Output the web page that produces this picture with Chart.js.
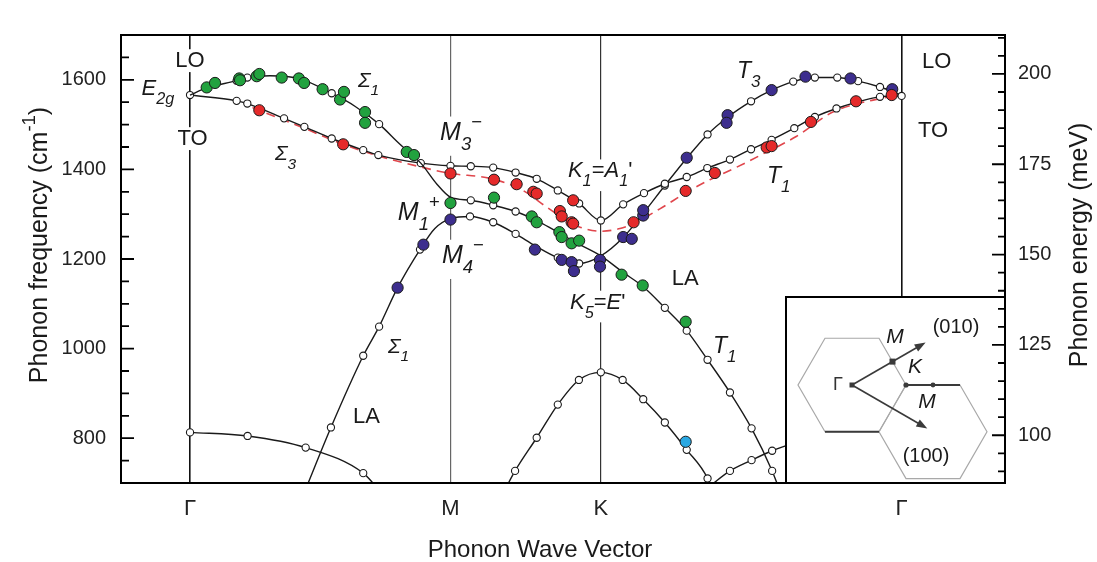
<!DOCTYPE html>
<html>
<head>
<meta charset="utf-8">
<script src="https://cdn.jsdelivr.net/npm/chart.js@4.4.1/dist/chart.umd.min.js"></script>
<style>
html, body { margin: 0; padding: 0; background: #fff; }
canvas { display: block; }
</style>
</head>
<body>
<canvas id="chart" width="1097" height="562"></canvas>
<script>
const FONT = '"Liberation Sans", Arial, Helvetica, sans-serif';
const K_POS = 1 + 1 / Math.sqrt(3);
const G2_POS = 1 + Math.sqrt(3);
const CM_PER_MEV = 8.0655;

// high-symmetry points along the path
const xTicks = [0, 1, K_POS, G2_POS];
const xLabels = ['Γ', 'M', 'K', 'Γ'];
const yTicks = [800, 1000, 1200, 1400, 1600];
const meVTicks = [100, 125, 150, 175, 200];

// calculated branches: [q, frequency cm-1, open circle shown]
const branchLO = [[0,1566,0],[0.064,1582,0],[0.179,1598,1],[0.22,1605,1],[0.307,1609,0],[0.422,1602,0],[0.544,1570,1],[0.633,1541,0],[0.726,1501,1],[0.806,1456,0],[0.886,1414,0],[0.948,1367,0],[1.0,1338,0],[1.078,1331,1],[1.164,1320,1],[1.25,1306,1],[1.344,1282,0],[1.42,1257,0],[1.497,1232,0],[K_POS,1207,0],[1.663,1170,0],[1.74,1138,0],[1.823,1091,1],[1.907,1040,1],[1.987,975,1],[2.073,902,1],[2.156,822,1],[2.235,727,1],[2.265,682,0]];
const branchTO = [[0,1566,1],[0.179,1553,1],[0.22,1547,1],[0.361,1514,1],[0.439,1495,1],[0.544,1469,1],[0.665,1443,1],[0.723,1432,1],[0.886,1414,1],[1.0,1408,1],[1.078,1407,1],[1.164,1404,1],[1.25,1393,1],[1.331,1379,1],[1.412,1353,1],[1.494,1324,1],[K_POS,1286,1],[1.663,1322,1],[1.743,1347,1],[1.823,1368,1],[1.907,1383,1],[1.986,1403,1],[2.073,1422,1],[2.154,1445,1],[2.233,1466,1],[2.32,1492,1],[2.399,1517,1],[2.482,1536,1],[2.649,1562,1],[G2_POS,1564,1]];
const branchLA = [[0.441,682,0],[0.541,824,1],[0.665,984,1],[0.726,1049,1],[0.797,1136,0],[0.883,1221,1],[0.94,1268,0],[1.0,1290,0],[1.075,1295,1],[1.164,1282,1],[1.25,1256,1],[1.324,1230,0],[1.412,1203,1],[1.494,1190,1],[K_POS,1207,0],[1.663,1248,0],[1.743,1304,0],[1.823,1364,1],[1.907,1425,0],[1.987,1478,1],[2.065,1517,0],[2.154,1552,1],[2.233,1577,0],[2.316,1596,1],[2.399,1605,1],[2.485,1605,1],[2.565,1597,1],[2.649,1584,1],[G2_POS,1566,0]];
const branchLowGM = [[0,813,1],[0.221,805,1],[0.444,779,1],[0.665,722,1],[0.729,682,0]];
const branchArchK = [[1.21,686,0],[1.248,727,1],[1.331,801,1],[1.412,875,1],[1.493,930,1],[K_POS,947,1],[1.661,930,1],[1.74,887,1],[1.823,835,1],[1.907,774,1],[1.987,710,1],[2.004,682,0]];
const branchLowKG = [[2.0,695,0],[2.073,727,1],[2.156,751,1],[2.235,772,1],[2.341,794,0]];

// dashed red curve
const redDashed = [[0.24,1538],[0.265,1532],[0.422,1496],[0.587,1456],[0.729,1429],[0.889,1405],[1.0,1391],[1.152,1380],[1.278,1353],[1.369,1316],[1.446,1286],[1.497,1271],[K_POS,1262],[1.651,1268],[1.701,1279],[1.804,1312],[1.907,1349],[1.996,1377],[2.099,1405],[2.188,1431],[2.329,1474],[2.468,1528],[2.649,1558],[2.713,1564]];

// measured points
const greenPts = [[0.064,1583],[0.096,1593],[0.189,1603],[0.192,1599],[0.256,1608],[0.266,1613],[0.352,1605],[0.418,1603],[0.438,1593],[0.509,1579],[0.576,1556],[0.591,1573],[0.672,1528],[0.672,1504],[0.832,1439],[0.86,1432],[1.0,1325],[1.167,1337],[1.312,1295],[1.331,1282],[1.418,1260],[1.427,1249],[1.465,1235],[1.494,1241],[1.657,1165],[1.738,1141],[1.903,1060]];
const redPts = [[0.266,1532],[0.588,1456],[1.0,1391],[1.167,1377],[1.254,1367],[1.318,1350],[1.331,1346],[1.42,1307],[1.427,1295],[1.465,1282],[1.471,1279],[1.471,1331],[1.703,1282],[1.903,1352],[2.015,1392],[2.214,1449],[2.233,1452],[2.384,1506],[2.557,1552],[2.694,1566]];
const purplePts = [[0.797,1136],[0.896,1232],[1.0,1288],[1.324,1221],[1.427,1198],[1.465,1193],[1.474,1173],[1.574,1198],[1.574,1183],[1.663,1249],[1.696,1245],[1.74,1297],[1.74,1309],[1.907,1426],[2.064,1521],[2.06,1504],[2.233,1577],[2.363,1607],[2.536,1603],[2.696,1579]];
const cyanPts = [[1.903,792]];

// text labels: anchor in data units (q, cm-1); parts = [text, 'sub'|'sup'|'', italic]
const labels = [
  { x: 0, y: 1628, size: 22, align: 'center', bg: true, parts: [['LO']] },
  { x: -0.186, y: 1566, size: 22, parts: [['E', '', 1], ['2g', 'sub', 1]] },
  { x: 0.01, y: 1454, size: 22, align: 'center', bg: true, parts: [['TO']] },
  { x: 0.645, y: 1584, size: 21, parts: [['Σ', '', 1], ['1', 'sub', 1]] },
  { x: 0.326, y: 1420, size: 21, parts: [['Σ', '', 1], ['3', 'sub', 1]] },
  { x: 0.96, y: 1465, size: 25, bg: true, parts: [['M', '', 1], ['3', 'sub', 1], ['−', 'sup', 0]] },
  { x: 0.798, y: 1286, size: 25, parts: [['M', '', 1], ['1', 'sub', 1], ['+', 'sup', 0]] },
  { x: 0.967, y: 1190, size: 25, bg: true, parts: [['M', '', 1], ['4', 'sub', 1], ['−', 'sup', 0]] },
  { x: 1.451, y: 1382, size: 22, bg: true, parts: [['K', '', 1], ['1', 'sub', 1], ['='], ['A', '', 1], ['1', 'sub', 1], ["'"]] },
  { x: 1.459, y: 1089, size: 22, bg: true, parts: [['K', '', 1], ['5', 'sub', 1], ['='], ['E', '', 1], ["'"]] },
  { x: 1.85, y: 1141, size: 22, parts: [['LA']] },
  { x: 2.008, y: 991, size: 23, parts: [['T', '', 1], ['1', 'sub', 1]] },
  { x: 2.1, y: 1604, size: 23, parts: [['T', '', 1], ['3', 'sub', 1]] },
  { x: 2.215, y: 1369, size: 23, parts: [['T', '', 1], ['1', 'sub', 1]] },
  { x: 0.76, y: 991, size: 21, parts: [['Σ', '', 1], ['1', 'sub', 1]] },
  { x: 0.626, y: 834, size: 22, parts: [['LA']] },
  { x: 2.81, y: 1626, size: 22, parts: [['LO']] },
  { x: 2.795, y: 1472, size: 22, parts: [['TO']] }
];

const toXY = arr => arr.map(p => ({ x: p[0], y: p[1], o: p[2] || 0 }));

function curve(branch) {
  return {
    data: toXY(branch),
    showLine: true,
    borderColor: '#1a1a1a',
    borderWidth: 1.4,
    cubicInterpolationMode: 'monotone',
    pointRadius: c => (c.raw && c.raw.o ? 3.6 : 0),
    pointBackgroundColor: '#fff',
    pointBorderColor: '#1a1a1a',
    pointBorderWidth: 1.1,
    clip: 0,
    order: 1
  };
}

function dots(arr, color) {
  return {
    data: toXY(arr),
    showLine: false,
    pointRadius: 5.6,
    backgroundColor: color,
    borderColor: '#1a1a1a',
    borderWidth: 1,
    order: 0
  };
}

function measureRich(ctx, parts, size) {
  const items = [];
  let w = 0;
  parts.forEach(([t, mode, it]) => {
    const s = mode ? size * 0.74 : size;
    const font = (it ? 'italic ' : '') + s + 'px ' + FONT;
    ctx.font = font;
    const pw = ctx.measureText(t).width;
    const dy = mode === 'sub' ? size * 0.4 : mode === 'sup' ? -size * 0.5 : 0;
    items.push({ t, font, pw, dy });
    w += pw;
  });
  return { items, w };
}

function drawRich(ctx, parts, x, y, size, align) {
  const m = measureRich(ctx, parts, size);
  let cx = align === 'center' ? x - m.w / 2 : x;
  ctx.textAlign = 'left';
  ctx.textBaseline = 'alphabetic';
  m.items.forEach(it => {
    ctx.font = it.font;
    ctx.fillText(it.t, cx, y + it.dy);
    cx += it.pw;
  });
}

const annotations = {
  id: 'annotations',
  afterDatasetsDraw(chart) {
    const { ctx, chartArea: ca, scales } = chart;
    const xs = scales.x, ys = scales.y, y2 = scales.y2;
    ctx.save();

    // curve labels
    labels.forEach(l => {
      const px = xs.getPixelForValue(l.x), py = ys.getPixelForValue(l.y);
      if (l.bg) {
        const m = measureRich(ctx, l.parts, l.size);
        const left = l.align === 'center' ? px - m.w / 2 : px;
        const hasSub = l.parts.some(p => p[1] === 'sub');
        const hasSup = l.parts.some(p => p[1] === 'sup');
        const top = py - l.size * (hasSup ? 0.95 : 0.82);
        const bot = py + l.size * (hasSub ? 0.62 : 0.22);
        ctx.fillStyle = '#fff';
        ctx.fillRect(left - 3, top, m.w + 6, bot - top);
      }
      ctx.fillStyle = '#1a1a1a';
      drawRich(ctx, l.parts, px, py, l.size, l.align);
    });

    // Brillouin zone inset
    const bw = 219, bh = 186;
    const bx = ca.right - bw, by = ca.bottom - bh;
    ctx.fillStyle = '#fff';
    ctx.fillRect(bx, by, bw, bh);
    ctx.save();
    ctx.beginPath();
    ctx.rect(bx, by, bw, bh);
    ctx.clip();
    const R = 54, s3 = Math.sqrt(3) / 2;
    const g = { x: bx + 66, y: by + 88 };
    const h2 = { x: g.x + 1.5 * R, y: g.y + s3 * R };
    const hex = c => [0, 60, 120, 180, 240, 300].map(a => ({
      x: c.x + R * Math.cos(a * Math.PI / 180),
      y: c.y - R * Math.sin(a * Math.PI / 180)
    }));
    ctx.strokeStyle = '#a8a8a8';
    ctx.lineWidth = 1.2;
    [g, h2].forEach(c => {
      const v = hex(c);
      ctx.beginPath();
      v.forEach((p, i) => (i ? ctx.lineTo(p.x, p.y) : ctx.moveTo(p.x, p.y)));
      ctx.closePath();
      ctx.stroke();
    });
    const v1 = hex(g), v2 = hex(h2);
    ctx.strokeStyle = '#3a3a3a';
    ctx.lineWidth = 1.8;
    ctx.beginPath();
    ctx.moveTo(v1[4].x, v1[4].y); ctx.lineTo(v1[5].x, v1[5].y);
    ctx.moveTo(v2[2].x, v2[2].y); ctx.lineTo(v2[1].x, v2[1].y);
    ctx.stroke();

    const arrow = (x0, y0, x1, y1) => {
      const a = Math.atan2(y1 - y0, x1 - x0);
      ctx.beginPath();
      ctx.moveTo(x0, y0);
      ctx.lineTo(x1 - 8 * Math.cos(a), y1 - 8 * Math.sin(a));
      ctx.stroke();
      ctx.beginPath();
      ctx.moveTo(x1, y1);
      ctx.lineTo(x1 - 11 * Math.cos(a) + 4 * Math.sin(a), y1 - 11 * Math.sin(a) - 4 * Math.cos(a));
      ctx.lineTo(x1 - 11 * Math.cos(a) - 4 * Math.sin(a), y1 - 11 * Math.sin(a) + 4 * Math.cos(a));
      ctx.closePath();
      ctx.fillStyle = '#3a3a3a';
      ctx.fill();
    };
    ctx.lineWidth = 1.6;
    arrow(g.x, g.y, g.x + 85 * Math.cos(Math.PI / 6), g.y - 85 * Math.sin(Math.PI / 6));
    arrow(g.x, g.y, g.x + 0.93 * (h2.x - g.x), g.y + 0.93 * (h2.y - g.y));

    ctx.fillStyle = '#3a3a3a';
    const m1 = { x: g.x + 0.75 * R, y: g.y - 0.5 * s3 * R };
    ctx.fillRect(g.x - 2.5, g.y - 2.5, 5, 5);
    ctx.fillRect(m1.x - 3, m1.y - 3, 6, 6);
    ctx.beginPath(); ctx.arc(g.x + R, g.y, 2.6, 0, Math.PI * 2); ctx.fill();
    ctx.beginPath(); ctx.arc(g.x + 1.5 * R, g.y, 2.4, 0, Math.PI * 2); ctx.fill();

    ctx.textAlign = 'center';
    ctx.textBaseline = 'middle';
    ctx.fillStyle = '#333';
    ctx.font = '18px ' + FONT;
    ctx.fillText('Γ', bx + 52, by + 88);
    ctx.fillStyle = '#1a1a1a';
    ctx.font = 'italic 21px ' + FONT;
    ctx.fillText('M', bx + 109, by + 40);
    ctx.fillText('K', bx + 129, by + 70);
    ctx.fillText('M', bx + 141, by + 105);
    ctx.font = '20px ' + FONT;
    ctx.fillText('(010)', bx + 170, by + 30);
    ctx.fillText('(100)', bx + 140, by + 159);
    ctx.restore();
    ctx.strokeStyle = '#000';
    ctx.lineWidth = 2;
    ctx.strokeRect(bx, by, bw, bh);

    // frame and inward ticks
    ctx.strokeRect(ca.left, ca.top, ca.right - ca.left, ca.bottom - ca.top);
    ctx.lineWidth = 1.8;
    ctx.beginPath();
    for (let v = 750; v < 1700; v += 50) {
      const p = ys.getPixelForValue(v);
      const len = v % 200 === 0 ? 13 : 8;
      ctx.moveTo(ca.left, p); ctx.lineTo(ca.left + len, p);
    }
    for (let e = 90; e <= 210; e += 5) {
      const p = y2.getPixelForValue(e);
      if (p <= ca.top + 2 || p >= ca.bottom - 2) continue;
      const len = e % 25 === 0 ? 13 : 7;
      ctx.moveTo(ca.right, p); ctx.lineTo(ca.right - len, p);
    }
    ctx.stroke();

    // axis titles
    ctx.fillStyle = '#1a1a1a';
    ctx.save();
    ctx.translate(47, 245);
    ctx.rotate(-Math.PI / 2);
    drawRich(ctx, [['Phonon frequency (cm'], ['-1', 'sup'], [')']], 0, 0, 25, 'center');
    ctx.restore();
    ctx.save();
    ctx.translate(1087, 245);
    ctx.rotate(-Math.PI / 2);
    drawRich(ctx, [['Phonon energy (meV)']], 0, 0, 25, 'center');
    ctx.restore();
    drawRich(ctx, [['Phonon Wave Vector']], 540, 557, 24, 'center');
    ctx.restore();
  }
};

new Chart(document.getElementById('chart'), {
  type: 'scatter',
  data: {
    datasets: [
      dots(greenPts, '#22a23f'),
      dots(redPts, '#e52a2a'),
      dots(purplePts, '#3d2e8e'),
      dots(cyanPts, '#2aa8e2'),
      curve(branchLO),
      curve(branchTO),
      curve(branchLA),
      curve(branchLowGM),
      curve(branchArchK),
      curve(branchLowKG),
      {
        data: toXY(redDashed),
        showLine: true,
        borderColor: '#e0464c',
        borderWidth: 1.6,
        borderDash: [9, 6],
        cubicInterpolationMode: 'monotone',
        pointRadius: 0,
        order: 2
      }
    ]
  },
  options: {
    responsive: false,
    animation: false,
    devicePixelRatio: 1,
    layout: { padding: { top: 35, left: 0, right: 0, bottom: 0 } },
    plugins: { legend: { display: false }, tooltip: { enabled: false } },
    scales: {
      x: {
        type: 'linear',
        min: -0.265,
        max: 3.129,
        afterBuildTicks: s => { s.ticks = xTicks.map(v => ({ value: v })); },
        afterFit: s => { s.height = 79; },
        border: { display: false },
        grid: {
          drawTicks: false,
          color: c => (c.index === 1 ? '#666' : c.index === 2 ? '#333' : '#111'),
          lineWidth: c => (c.index === 1 || c.index === 2 ? 1.2 : 1.6)
        },
        ticks: {
          autoSkip: false,
          maxRotation: 0,
          padding: 13,
          color: '#222',
          font: { family: FONT, size: 22 },
          callback: (v, i) => xLabels[i]
        }
      },
      y: {
        type: 'linear',
        position: 'left',
        min: 700,
        max: 1700,
        afterBuildTicks: s => { s.ticks = yTicks.map(v => ({ value: v })); },
        afterFit: s => { s.width = 121; },
        border: { display: false },
        grid: { display: false, drawTicks: false },
        ticks: { padding: 15, color: '#222', font: { family: FONT, size: 20 }, callback: v => String(v) }
      },
      y2: {
        type: 'linear',
        position: 'right',
        min: 700 / CM_PER_MEV,
        max: 1700 / CM_PER_MEV,
        afterBuildTicks: s => { s.ticks = meVTicks.map(v => ({ value: v })); },
        afterFit: s => { s.width = 92; },
        border: { display: false },
        grid: { display: false, drawTicks: false },
        ticks: { padding: 13, color: '#222', font: { family: FONT, size: 20 }, callback: v => String(v) }
      }
    }
  },
  plugins: [annotations]
});
</script>
</body>
</html>
